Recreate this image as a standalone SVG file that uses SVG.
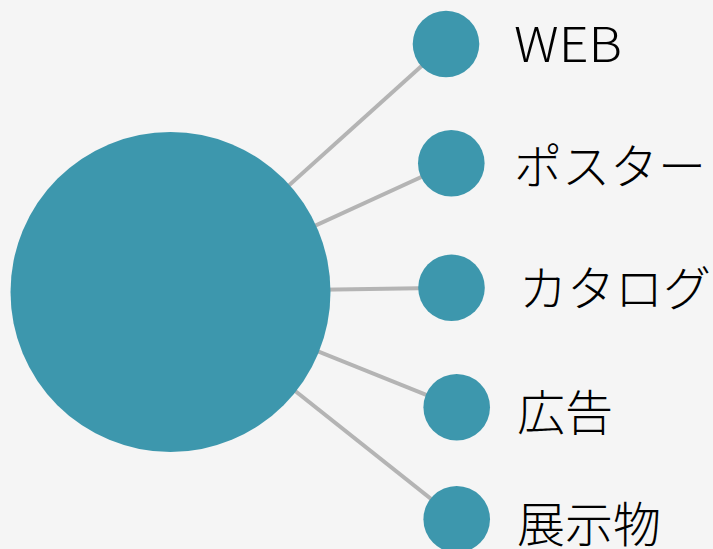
<svg xmlns="http://www.w3.org/2000/svg" width="713" height="549" viewBox="0 0 713 549">
<style>
.n{fill:#3d97ad}
.c{stroke:#b4b4b4;stroke-width:4;fill:none}
.t{font-family:"Noto Sans CJK JP","Liberation Sans",sans-serif;font-size:48px;font-weight:300;fill:#000}
.w{font-family:"Noto Sans CJK JP","Liberation Sans",sans-serif;font-size:48px;font-weight:300;fill:#000}
</style>
<rect width="713" height="549" fill="#f5f5f5"/>
<g id="connectors">
<line class="c" x1="170.5" y1="292" x2="446" y2="44"/>
<line class="c" x1="170.5" y1="292" x2="451.3" y2="163.3"/>
<line class="c" x1="170.5" y1="292" x2="451.5" y2="287.7"/>
<line class="c" x1="170.5" y1="292" x2="456.7" y2="407.2"/>
<line class="c" x1="170.5" y1="292" x2="456.7" y2="519.3"/>
</g>
<g id="hub"><circle class="n" cx="170.5" cy="292" r="160"/></g>
<g id="web"><circle class="n" cx="446" cy="44" r="33.3"/><text class="w" x="514" y="62" textLength="108" lengthAdjust="spacingAndGlyphs">WEB</text></g>
<g id="poster"><circle class="n" cx="451.3" cy="163.3" r="33.3"/><text class="t" x="514" y="184">ポスター</text></g>
<g id="catalog"><circle class="n" cx="451.5" cy="287.7" r="33.3"/><text class="t" x="519" y="306">カタログ</text></g>
<g id="ad"><circle class="n" cx="456.7" cy="407.2" r="33.3"/><text class="t" x="517" y="430">広告</text></g>
<g id="exhibit"><circle class="n" cx="456.7" cy="519.3" r="33.3"/><text class="t" x="517" y="542">展示物</text></g>
</svg>
